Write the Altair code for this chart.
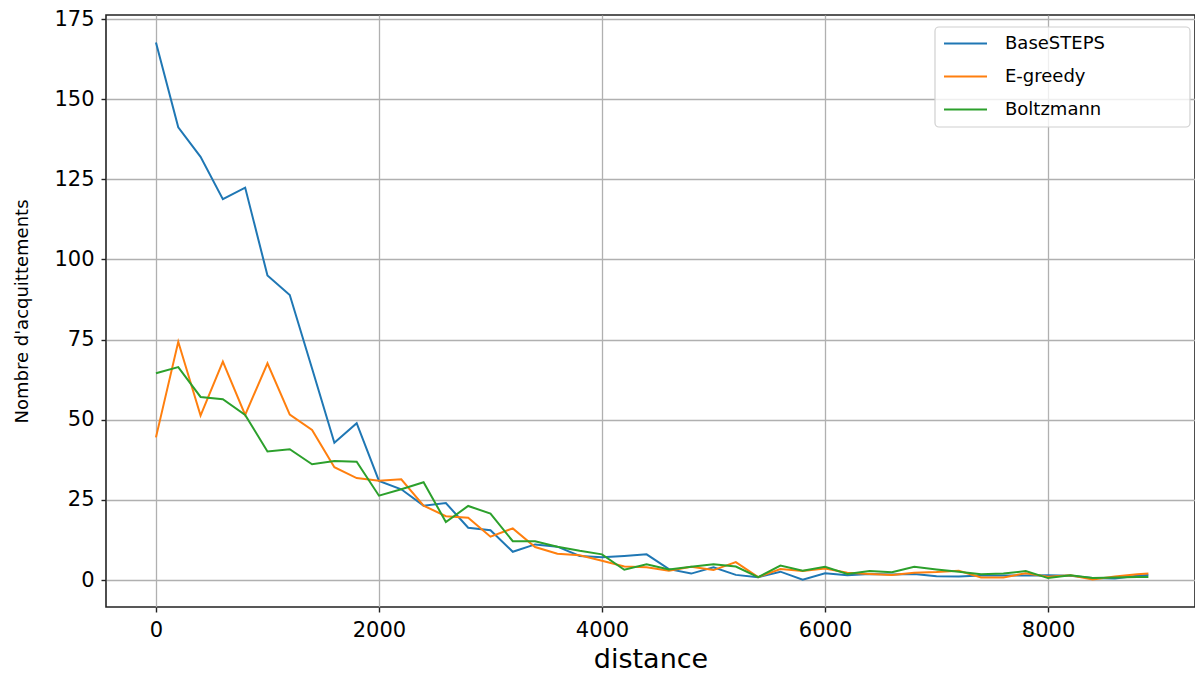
import altair as alt
import pandas as pd

distance = [0, 200, 400, 600, 800, 1000, 1200, 1400, 1600, 1800,
            2000, 2200, 2400, 2600, 2800, 3000, 3200, 3400, 3600, 3800,
            4000, 4200, 4400, 4600, 4800, 5000, 5200, 5400, 5600, 5800,
            6000, 6200, 6400, 6600, 6800, 7000, 7200, 7400, 7600, 7800,
            8000, 8200, 8400, 8600, 8800, 8900]

basesteps = [167.7, 141.2, 132.0, 118.8, 122.4, 95.0, 88.9, 66.0, 42.8, 48.9,
             30.9, 28.3, 23.2, 24.0, 16.3, 15.5, 8.8, 11.1, 10.4, 7.5,
             7.1, 7.5, 8.0, 3.4, 2.0, 4.0, 1.6, 0.9, 2.6, 0.1,
             2.1, 1.5, 1.9, 1.7, 1.9, 1.2, 1.1, 1.4, 1.4, 1.4,
             1.5, 1.3, 0.6, 0.5, 1.3, 1.6]

egreedy = [44.5, 74.3, 51.3, 68.1, 51.5, 67.6, 51.6, 46.8, 35.2, 31.8,
           31.0, 31.4, 23.2, 19.9, 19.4, 13.5, 16.1, 10.3, 8.2, 7.7,
           6.0, 4.2, 4.0, 2.9, 4.1, 3.1, 5.6, 0.9, 3.4, 2.8,
           3.6, 2.3, 1.9, 1.6, 2.3, 2.5, 2.9, 0.8, 0.8, 2.1,
           1.0, 1.5, 0.2, 1.1, 1.8, 2.0]

boltzmann = [64.5, 66.4, 57.1, 56.4, 51.5, 40.1, 40.8, 36.1, 37.1, 36.9,
             26.3, 28.3, 30.5, 18.1, 23.1, 20.7, 12.1, 12.1, 10.4, 9.1,
             8.0, 3.2, 4.9, 3.3, 4.1, 4.9, 4.2, 0.9, 4.5, 2.9,
             4.1, 1.9, 2.8, 2.4, 4.1, 3.3, 2.6, 1.8, 2.0, 2.8,
             0.6, 1.5, 0.6, 0.8, 0.9, 0.9]

series_names = ["BaseSTEPS", "E-greedy", "Boltzmann"]
series_colors = ["#1f77b4", "#ff7f0e", "#2ca02c"]
x_ticks = [0, 2000, 4000, 6000, 8000]
y_ticks = [0, 25, 50, 75, 100, 125, 150, 175]

rows = []
for name, vals in zip(series_names, [basesteps, egreedy, boltzmann]):
    for i, (d, v) in enumerate(zip(distance, vals)):
        rows.append({"distance": d, "value": v, "series": name, "order": i})
df = pd.DataFrame(rows)

FONT = "DejaVu Sans"

lines = alt.Chart(df).mark_line(strokeWidth=2).encode(
    x=alt.X("distance:Q",
            scale=alt.Scale(domain=[-448, 9318], nice=False, zero=False),
            axis=alt.Axis(values=x_ticks, title="distance", format="d",
                          labelFontSize=21, titleFontSize=27,
                          titleFontWeight="normal", labelPadding=7,
                          titlePadding=6)),
    y=alt.Y("value:Q",
            scale=alt.Scale(domain=[-8.42, 176.25], nice=False, zero=False),
            axis=alt.Axis(values=y_ticks, title="Nombre d'acquittements",
                          labelFontSize=21, titleFontSize=18,
                          titleFontWeight="normal", labelPadding=7,
                          titlePadding=22)),
    color=alt.Color("series:N",
                    scale=alt.Scale(domain=series_names, range=series_colors),
                    sort=series_names,
                    legend=alt.Legend(title=None, orient="none",
                                      legendX=837, legendY=6,
                                      symbolType="stroke", symbolSize=1849,
                                      symbolStrokeWidth=2,
                                      labelFontSize=18, labelOffset=17,
                                      rowPadding=1, padding=0,
                                      labelLimit=300)),
    order="order:Q",
)

legend_frame = alt.Chart(pd.DataFrame({"frame": [0]})).mark_rect(
    fill="white", fillOpacity=0.8, stroke="#d0d0d0", strokeWidth=1.2,
    cornerRadius=4
).encode(
    x=alt.value(829), x2=alt.value(1084),
    y=alt.value(12), y2=alt.value(112),
)

chart = alt.layer(lines, legend_frame).properties(
    width=1089, height=592,
    padding={"left": 98, "top": 7, "right": 0, "bottom": 67},
    autosize=alt.AutoSizeParams(type="none"),
).configure_view(
    stroke="#222222", strokeWidth=1.6
).configure_axis(
    labelFont=FONT, titleFont=FONT, labelColor="#000000", titleColor="#000000",
    domain=False, tickColor="#222222", tickSize=5, tickWidth=1.4,
    grid=True, gridColor="#b0b0b0", gridWidth=1.3
).configure_legend(
    labelFont=FONT, labelColor="#000000"
)

chart.save("out.html", embed_options={"renderer": "svg", "actions": False})
